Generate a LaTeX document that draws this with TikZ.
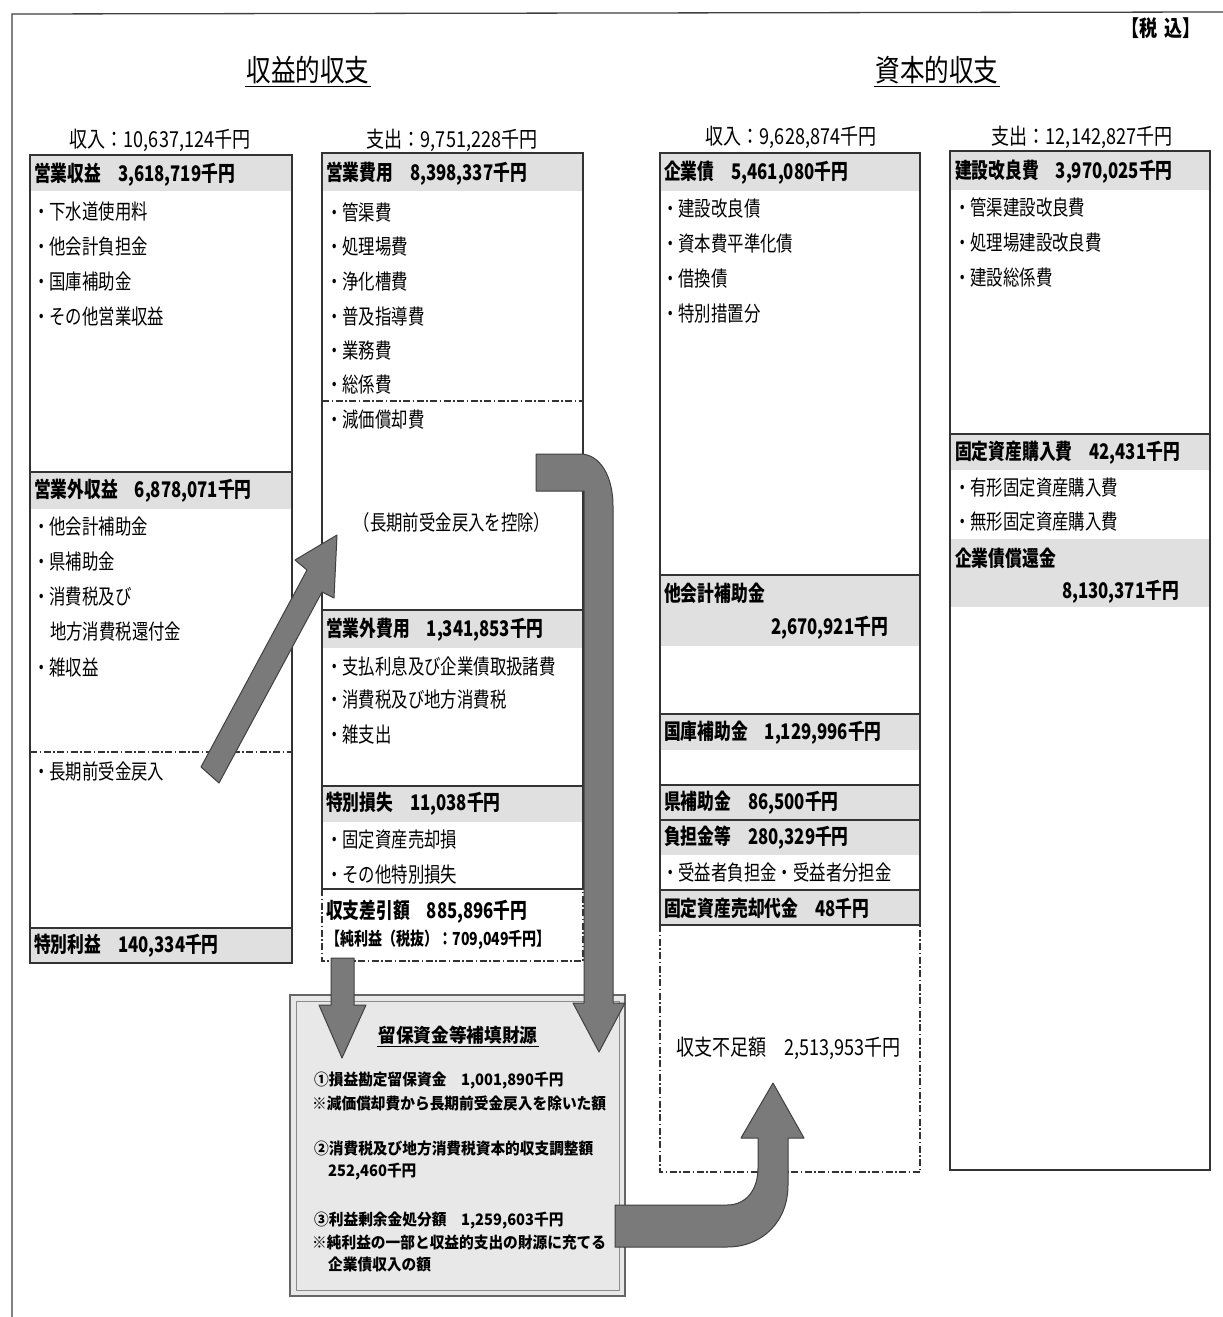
\documentclass[tikz,border=0pt]{standalone}
\usepackage{fontspec}
\setmainfont{Noto Sans CJK JP}[FakeStretch=0.78]
\newfontfamily\boxfont{Noto Sans CJK JP}[FakeStretch=0.93]
\newfontfamily\titlefont{Noto Sans CJK JP}[FakeStretch=0.82]
\tikzset{
  frameline/.style={draw=black!75, line width=1.3pt},
  boxline/.style={draw=black!80, line width=1.4pt},
  band/.style={fill=black!12},
  ddot/.style={draw=black!80, line width=1.3pt, dash pattern=on 7pt off 2.5pt on 1.5pt off 2.5pt},
  item/.style={anchor=west, inner sep=0pt, font=\fontsize{21}{23}\selectfont},
  hd/.style={anchor=west, inner sep=0pt, font=\fontsize{21.5}{23}\selectfont\bfseries},
  colhd/.style={inner sep=0pt, font=\titlefont\fontsize{22}{24}\selectfont},
  ttl/.style={inner sep=1.5pt, font=\titlefont\fontsize{30}{32}\selectfont},
  btxt/.style={anchor=west, inner sep=0pt, font=\boxfont\fontsize{15.8}{17}\selectfont\bfseries},
  blk/.style={fill=black!52, draw=black!75, line width=1pt, line join=round},
}
\newcommand\jitem[4]{\node[item] (#1) at (#2,#3) {#4};}
\begin{document}
\begin{tikzpicture}[x=1pt,y=-1pt]
\useasboundingbox (0,0) rectangle (1223,1317);
\fill[white] (0,0) rectangle (1223,1317);
% outer frame
\coordinate (fa) at (12,14);
\coordinate (fb) at (1223,12);
\coordinate (fc) at (12,1317);
\draw[frameline] (fb) -- (fa) -- (fc);

% titles
\node[ttl] (t1) at (308,70) {収益的収支};
\draw[line width=1pt] ([yshift=-1pt]t1.south west) -- ([yshift=-1pt]t1.south east);
\node[ttl] (t2) at (937,70) {資本的収支};
\draw[line width=1pt] ([yshift=-1pt]t2.south west) -- ([yshift=-1pt]t2.south east);
\node[inner sep=0pt, font=\titlefont\fontsize{22}{24}\selectfont\bfseries] (tax) at (1161,28) {【税\hspace{6pt}込】};

% column headers
\node[colhd] (h1) at (160,140) {収入：10,637,124千円};
\node[colhd] (h2) at (452,140) {支出：9,751,228千円};
\node[colhd] (h3) at (791,137) {収入：9,628,874千円};
\node[colhd] (h4) at (1082,137) {支出：12,142,827千円};

% ---------- column 1 ----------
\fill[band] (30,155) rectangle (292,191);
\fill[band] (30,472) rectangle (292,509);
\fill[band] (30,928) rectangle (292,963);
\draw[boxline] (30,155) rectangle (292,963);
\draw[boxline] (30,472) -- (292,472);
\draw[boxline] (30,928) -- (292,928);
\draw[ddot] (30,752) -- (292,752);
\node[hd] (c1h1) at (34,175) {営業収益　3,618,719千円};
\jitem{c1a}{33}{212}{・下水道使用料}
\jitem{c1b}{33}{247}{・他会計負担金}
\jitem{c1c}{33}{282}{・国庫補助金}
\jitem{c1d}{33}{317}{・その他営業収益}
\node[hd] (c1h2) at (34,491) {営業外収益　6,878,071千円};
\jitem{c1e}{33}{527}{・他会計補助金}
\jitem{c1f}{33}{562}{・県補助金}
\jitem{c1g}{33}{597}{・消費税及び}
\jitem{c1h}{50}{632}{地方消費税還付金}
\jitem{c1i}{33}{667}{・雑収益}
\jitem{c1j}{33}{772}{・長期前受金戻入}
\node[hd] (c1h3) at (34,946) {特別利益　140,334千円};

% ---------- column 2 ----------
\fill[band] (322,153) rectangle (583,191);
\fill[band] (322,610) rectangle (583,648);
\fill[band] (322,786) rectangle (583,822);
\draw[boxline] (322,153) rectangle (583,889);
\draw[boxline] (322,610) -- (583,610);
\draw[boxline] (322,786) -- (583,786);
\draw[ddot] (322,401) -- (583,401);
\draw[ddot] (322,889) -- (322,961) -- (583,961) -- (583,889);
\node[hd] (c2h1) at (326,174) {営業費用　8,398,337千円};
\jitem{c2a}{326}{212}{・管渠費}
\jitem{c2b}{326}{247}{・処理場費}
\jitem{c2c}{326}{282}{・浄化槽費}
\jitem{c2d}{326}{317}{・普及指導費}
\jitem{c2e}{326}{351}{・業務費}
\jitem{c2f}{326}{385}{・総係費}
\jitem{c2g}{326}{420}{・減価償却費}
\node[inner sep=0pt, font=\fontsize{21}{23}\selectfont] (c2x) at (452,523) {（長期前受金戻入を控除）};
\node[hd] (c2h2) at (326,630) {営業外費用　1,341,853千円};
\jitem{c2h}{326}{666}{・支払利息及び企業債取扱諸費}
\jitem{c2i}{326}{700}{・消費税及び地方消費税}
\jitem{c2j}{326}{735}{・雑支出}
\node[hd] (c2h3) at (326,804) {特別損失　11,038千円};
\jitem{c2k}{326}{840}{・固定資産売却損}
\jitem{c2l}{326}{875}{・その他特別損失}
\node[hd] (c2s) at (326,912) {収支差引額　885,896千円};
\node[hd, font=\fontsize{18}{20}\selectfont\bfseries] (c2n) at (326,940) {【純利益（税抜）：709,049千円】};

% ---------- column 3 ----------
\fill[band] (660,153) rectangle (920,191);
\fill[band] (660,575) rectangle (920,646);
\fill[band] (660,714) rectangle (920,750);
\fill[band] (660,785) rectangle (920,819);
\fill[band] (660,820) rectangle (920,855);
\fill[band] (660,890) rectangle (920,925);
\draw[boxline] (660,153) rectangle (920,925);
\draw[boxline] (660,575) -- (920,575);
\draw[boxline] (660,714) -- (920,714);
\draw[boxline] (660,785) -- (920,785);
\draw[boxline] (660,820) -- (920,820);
\draw[boxline] (660,890) -- (920,890);
\draw[ddot] (660,925) -- (660,1172) -- (920,1172) -- (920,925);
\node[hd] (c3h1) at (664,173) {企業債　5,461,080千円};
\jitem{c3a}{662}{209}{・建設改良債}
\jitem{c3b}{662}{244}{・資本費平準化債}
\jitem{c3c}{662}{279}{・借換債}
\jitem{c3d}{662}{314}{・特別措置分}
\node[hd] (c3h2) at (664,593) {他会計補助金};
\node[hd, anchor=east] (c3h2v) at (888,628) {2,670,921千円};
\node[hd] (c3h3) at (664,733) {国庫補助金　1,129,996千円};
\node[hd] (c3h4) at (664,803) {県補助金　86,500千円};
\node[hd] (c3h5) at (664,838) {負担金等　280,329千円};
\jitem{c3e}{662}{873}{・受益者負担金・受益者分担金}
\node[hd] (c3h6) at (664,908) {固定資産売却代金　48千円};
\node[anchor=west, inner sep=0pt, font=\titlefont\fontsize{22}{24}\selectfont] (c3s) at (676,1048) {収支不足額　2,513,953千円};

% ---------- column 4 ----------
\fill[band] (950,151) rectangle (1210,190);
\fill[band] (950,434) rectangle (1210,470);
\fill[band] (950,539) rectangle (1210,607);
\draw[boxline] (950,151) rectangle (1210,1170);
\draw[boxline] (950,434) -- (1210,434);
\node[hd] (c4h1) at (955,172) {建設改良費　3,970,025千円};
\jitem{c4a}{954}{208}{・管渠建設改良費}
\jitem{c4b}{954}{243}{・処理場建設改良費}
\jitem{c4c}{954}{278}{・建設総係費}
\node[hd] (c4h2) at (955,453) {固定資産購入費　42,431千円};
\jitem{c4d}{954}{488}{・有形固定資産購入費}
\jitem{c4e}{954}{522}{・無形固定資産購入費}
\node[hd] (c4h3) at (955,558) {企業債償還金};
\node[hd, anchor=east] (c4h3v) at (1179,592) {8,130,371千円};

% ---------- bottom box ----------
\draw[line width=2.2pt, draw=black!60, fill=black!9] (290,995) rectangle (625,1296);
\draw[line width=0.6pt, draw=black!45] (296,1001) rectangle (619,1290);
\node[inner sep=1pt, font=\boxfont\fontsize{19}{21}\selectfont\bfseries] (bt) at (458,1035) {留保資金等補填財源};
\draw[line width=1pt] ([yshift=-1pt]bt.south west) -- ([yshift=-1pt]bt.south east);
\node[btxt] (b1) at (314,1080) {①損益勘定留保資金　1,001,890千円};
\node[btxt] (b2) at (312,1103) {※減価償却費から長期前受金戻入を除いた額};
\node[btxt] (b3) at (314,1149) {②消費税及び地方消費税資本的収支調整額};
\node[btxt] (b4) at (328,1172) {252,460千円};
\node[btxt] (b5) at (314,1220) {③利益剰余金処分額　1,259,603千円};
\node[btxt] (b6) at (312,1243) {※純利益の一部と収益的支出の財源に充てる};
\node[btxt] (b7) at (328,1265) {企業債収入の額};

% ---------- block arrows ----------
% diagonal arrow
\draw[blk] (201,767) -- (219,783) -- (322,592) -- (334,598) -- (337,535) -- (295,560) -- (307,570) -- cycle;
% bent arrow from depreciation to bottom box
\draw[blk] (536,454) -- (580,454) .. controls (600,454) and (613,476) .. (613,506)
  -- (613,1003) -- (625,1003) -- (599,1052) -- (573,1003) -- (584,1003) -- (584,491) -- (536,491) -- cycle;
% small down arrow
\draw[blk] (331,958) -- (354,958) -- (354,1005) -- (366,1005) -- (342,1058) -- (319,1005) -- (331,1005) -- cycle;
% bent arrow to capital deficit
\draw[blk] (615,1205) -- (727,1205) .. controls (746,1205) and (758,1190) .. (758,1168)
  -- (758,1138) -- (741,1138) -- (773,1083) -- (804,1138) -- (788,1138) -- (788,1185)
  .. controls (788,1222) and (762,1247) .. (727,1247) -- (615,1247) -- cycle;
\end{tikzpicture}
\end{document}
